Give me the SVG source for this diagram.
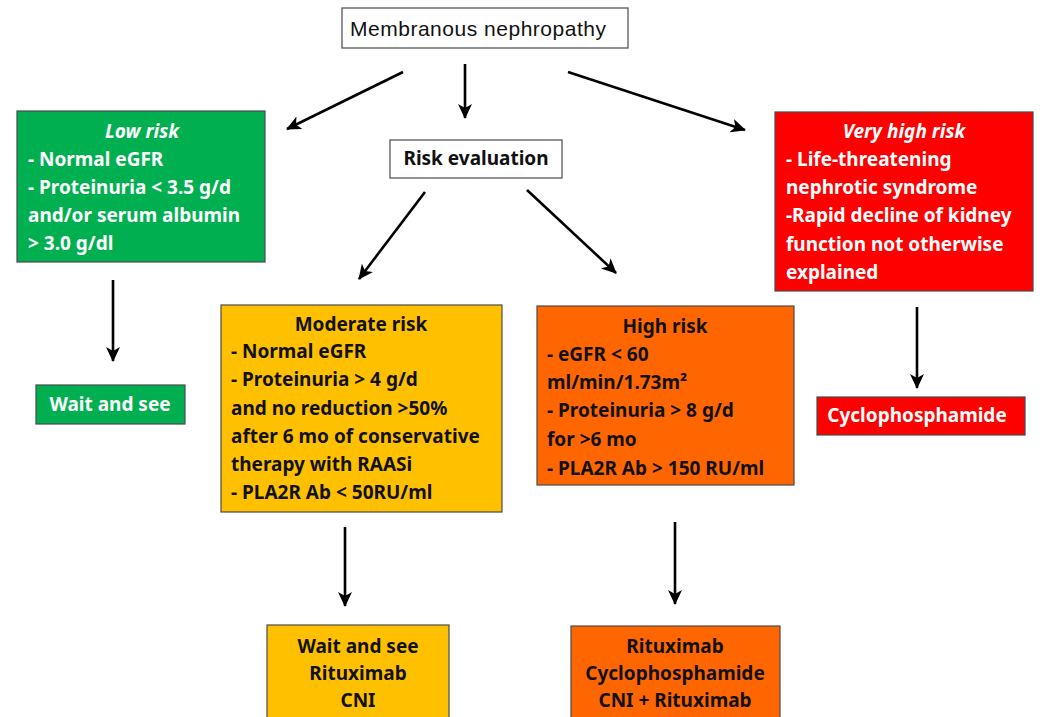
<svg xmlns="http://www.w3.org/2000/svg" width="1043" height="717" viewBox="0 0 1043 717">
<style>
  .box { stroke: #4a4a4a; stroke-width: 1.2; }
  .t { font-family: "Noto Sans", "Liberation Sans", sans-serif; font-size: 19px; font-weight: bold; }
  .w { fill: #ffffff; }
  .k { fill: #111111; }
  .c { text-anchor: middle; }
  .i { font-style: italic; }
  .conn { stroke: #000; stroke-width: 2.6; fill: none; marker-end: url(#ah); }
</style>
<defs>
  <marker id="ah" markerUnits="userSpaceOnUse" markerWidth="16" markerHeight="14" refX="14" refY="7" orient="auto">
    <path d="M0,0 L15,7 L0,14 L4,7 Z" fill="#000"/>
  </marker>
</defs>
<rect width="1043" height="717" fill="#ffffff"/>

<g id="connectors">
  <line class="conn" x1="403" y1="72" x2="287" y2="129"/>
  <line class="conn" x1="465" y1="64" x2="465" y2="118"/>
  <line class="conn" x1="568" y1="72" x2="745" y2="130"/>
  <line class="conn" x1="425" y1="192" x2="359" y2="279"/>
  <line class="conn" x1="527" y1="190" x2="616" y2="273"/>
  <line class="conn" x1="113" y1="280" x2="113" y2="361"/>
  <line class="conn" x1="917" y1="307" x2="917" y2="388"/>
  <line class="conn" x1="345" y1="527" x2="345" y2="606"/>
  <line class="conn" x1="675" y1="522" x2="675" y2="604"/>
</g>

<g id="membranous">
  <rect class="box" x="342" y="8" width="286" height="40" fill="#ffffff"/>
  <text x="478" y="36" font-family="Liberation Sans, sans-serif" font-size="21" text-anchor="middle" fill="#111" textLength="256" lengthAdjust="spacing">Membranous nephropathy</text>
</g>

<g id="risk-eval">
  <rect class="box" x="390" y="140" width="172" height="38" fill="#ffffff"/>
  <text class="t k c" x="476" y="165" font-size="17.5">Risk evaluation</text>
</g>

<g id="low-risk">
  <rect class="box" x="17" y="111" width="248" height="151" fill="#00B050"/>
  <text class="t w c i" x="142" y="138" font-weight="normal">Low risk</text>
  <text class="t w" x="28" y="166">- Normal eGFR</text>
  <text class="t w" x="28" y="194">- Proteinuria &lt; 3.5 g/d</text>
  <text class="t w" x="28" y="222">and/or serum albumin</text>
  <text class="t w" x="28" y="250">&gt; 3.0 g/dl</text>
</g>

<g id="very-high-risk">
  <rect class="box" x="775" y="112" width="258" height="179" fill="#FF0000"/>
  <text class="t w c i" x="904" y="138">Very high risk</text>
  <text class="t w" x="786" y="166">- Life-threatening</text>
  <text class="t w" x="786" y="194">nephrotic syndrome</text>
  <text class="t w" x="786" y="222">-Rapid decline of kidney</text>
  <text class="t w" x="786" y="251">function not otherwise</text>
  <text class="t w" x="786" y="279">explained</text>
</g>

<g id="wait-see-green">
  <rect class="box" x="36" y="385" width="149" height="39" fill="#00B050"/>
  <text class="t w c" x="110" y="411">Wait and see</text>
</g>

<g id="cyclophosphamide-red">
  <rect class="box" x="817" y="397" width="208" height="38" fill="#FF0000"/>
  <text class="t w c" x="917" y="422">Cyclophosphamide</text>
</g>

<g id="moderate-risk">
  <rect class="box" x="221" y="305" width="281" height="207" fill="#FFC000"/>
  <text class="t k c" x="361" y="331">Moderate risk</text>
  <text class="t k" x="231" y="358">- Normal eGFR</text>
  <text class="t k" x="231" y="386">- Proteinuria &gt; 4 g/d</text>
  <text class="t k" x="231" y="415">and no reduction &gt;50%</text>
  <text class="t k" x="231" y="443">after 6 mo of conservative</text>
  <text class="t k" x="231" y="471">therapy with RAASi</text>
  <text class="t k" x="231" y="499">- PLA2R Ab &lt; 50RU/ml</text>
</g>

<g id="high-risk">
  <rect class="box" x="537" y="306" width="257" height="179" fill="#FF6600"/>
  <text class="t k c" x="665" y="333">High risk</text>
  <text class="t k" x="547" y="361">- eGFR &lt; 60</text>
  <text class="t k" x="547" y="389">ml/min/1.73m²</text>
  <text class="t k" x="547" y="417">- Proteinuria &gt; 8 g/d</text>
  <text class="t k" x="547" y="446">for &gt;6 mo</text>
  <text class="t k" x="547" y="475">- PLA2R Ab &gt; 150 RU/ml</text>
</g>

<g id="moderate-treatment">
  <rect class="box" x="267" y="625" width="182" height="100" fill="#FFC000"/>
  <text class="t k c" x="358" y="653">Wait and see</text>
  <text class="t k c" x="358" y="680">Rituximab</text>
  <text class="t k c" x="358" y="707">CNI</text>
</g>

<g id="high-treatment">
  <rect class="box" x="571" y="626" width="209" height="100" fill="#FF6600"/>
  <text class="t k c" x="675" y="653">Rituximab</text>
  <text class="t k c" x="675" y="680">Cyclophosphamide</text>
  <text class="t k c" x="675" y="707">CNI + Rituximab</text>
</g>
</svg>
